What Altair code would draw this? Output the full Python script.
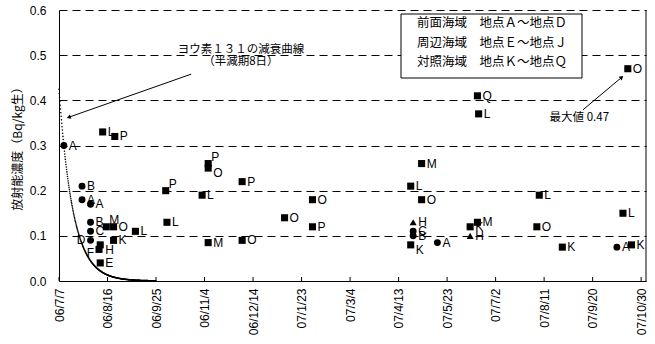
import altair as alt
import pandas as pd

# ---- Monitoring results: sampling date, concentration (Bq/kg wet), station ----
# 前面海域 (stations A–D), drawn as circles
front_dates = ["2006-07-11", "2006-07-26", "2006-07-26", "2006-08-02", "2006-08-02",
               "2006-08-02", "2006-08-02", "2007-04-25", "2007-04-25", "2007-05-15",
               "2007-10-10"]
front_values = [0.30, 0.21, 0.18, 0.17, 0.13, 0.11, 0.09, 0.11, 0.10, 0.085, 0.075]
front_labels = ["A", "B", "A", "A", "B", "C", "D", "C", "B", "A", "A"]

# 周辺海域 (stations E–J)
surr_dates = ["2006-08-09", "2006-08-10", "2006-08-10", "2007-04-25", "2007-06-11"]
surr_values = [0.07, 0.08, 0.04, 0.13, 0.10]
surr_labels = ["F", "H", "E", "H", "H"]
surr_markers = ["square", "square", "square", "triangle-up", "triangle-up"]

# 対照海域 (stations K–Q), drawn as squares
ctrl_dates = ["2006-08-12", "2006-08-22", "2006-08-15", "2006-08-21", "2006-08-21",
              "2006-09-08", "2006-10-03", "2006-10-04", "2006-11-02", "2006-11-07",
              "2006-11-07", "2006-11-07", "2006-12-05", "2006-12-05", "2007-01-09",
              "2007-02-01", "2007-02-01", "2007-04-23", "2007-04-23", "2007-05-02",
              "2007-05-02", "2007-06-11", "2007-06-17", "2007-06-17", "2007-06-18",
              "2007-08-07", "2007-08-05", "2007-08-26", "2007-10-15", "2007-10-19",
              "2007-10-22"]
ctrl_values = [0.33, 0.32, 0.12, 0.12, 0.09, 0.11, 0.20, 0.13, 0.19, 0.26,
               0.25, 0.085, 0.22, 0.09, 0.14, 0.18, 0.12, 0.21, 0.08, 0.26,
               0.18, 0.12, 0.13, 0.41, 0.37, 0.19, 0.12, 0.075, 0.15, 0.47,
               0.08]
ctrl_labels = ["L", "P", "M", "O", "K", "L", "P", "L", "L", "P",
               "O", "M", "P", "O", "O", "O", "P", "L", "K", "M",
               "O", "K", "M", "Q", "L", "L", "O", "K", "L", "O",
               "K"]

# x-axis tick dates (every 40 days)
tick_dates = ["2006-07-07", "2006-08-16", "2006-09-25", "2006-11-04", "2006-12-14",
              "2007-01-23", "2007-03-04", "2007-04-13", "2007-05-23", "2007-07-02",
              "2007-08-11", "2007-09-20", "2007-10-30"]
y_ticks = [0.0, 0.1, 0.2, 0.3, 0.4, 0.5, 0.6]

# I-131 decay reference curve, anchored on the first measurement at station A
HALF_LIFE_DAYS = 8
CURVE_DAYS = 80  # days after 2006-07-07 covered by the curve

legend_lines = ["前面海域　地点Ａ～地点Ｄ", "周辺海域　地点Ｅ～地点Ｊ", "対照海域　地点Ｋ～地点Ｑ"]

# ---- label placement (style only) ----
front_side = {6: "l"}
surr_side = {0: "dl", 1: "dr"}
ctrl_side = {2: "ur", 6: "ur", 9: "ur", 10: "dr", 18: "dr"}

rows = []
for i, (d, v, s) in enumerate(zip(front_dates, front_values, front_labels)):
    rows.append(dict(date=d, value=v, station=s, marker="circle", side=front_side.get(i, "r")))
for i, (d, v, s, m) in enumerate(zip(surr_dates, surr_values, surr_labels, surr_markers)):
    rows.append(dict(date=d, value=v, station=s, marker=m, side=surr_side.get(i, "r")))
for i, (d, v, s) in enumerate(zip(ctrl_dates, ctrl_values, ctrl_labels)):
    rows.append(dict(date=d, value=v, station=s, marker="square", side=ctrl_side.get(i, "r")))
points = pd.DataFrame(rows)

FONT = "Liberation Sans"
JFONT = "Noto Sans CJK JP"


def utc_dt(s):
    y, m, d = (int(p) for p in s.split("-"))
    return alt.DateTime(year=y, month=m, date=d, utc=True)


x_scale = alt.Scale(type="utc", domain=[utc_dt("2006-07-07"), utc_dt("2007-11-03")])
y_scale = alt.Scale(domain=[0, 0.6], nice=False, zero=False)

x_axis = alt.Axis(
    title=None, values=[utc_dt(t) for t in tick_dates],
    labelExpr="utcFormat(datum.value, '%y/%-m/%-d')",
    labelAngle=-90, labelFont=FONT, labelFontSize=12,
    labelColor="black", labelPadding=7, ticks=False, grid=False,
    domainColor="black", domainWidth=1, labelOverlap=False,
)
y_axis = alt.Axis(
    title="放射能濃度（Bq/kg生）", titleFont=JFONT, titleFontSize=12,
    titleFontWeight="normal", titleColor="black", titlePadding=5,
    values=y_ticks, format=".1f", labelFont=FONT, labelFontSize=12,
    labelColor="black", labelPadding=13, ticks=False,
    grid=True, gridColor="black", gridDash=[8, 5], gridWidth=1, gridOpacity=1,
    domainColor="black", domainWidth=1,
)


def xy(xf="date", yf="value"):
    """Shared positional encodings so every layer uses the same axes."""
    return dict(
        x=alt.X(f"{xf}:T", scale=x_scale, axis=x_axis),
        y=alt.Y(f"{yf}:Q", scale=y_scale, axis=y_axis),
    )


base = alt.Chart(points)

marker_layers = [
    base.transform_filter(alt.datum.marker == shape)
        .mark_point(shape=shape, size=size, filled=True, color="black", opacity=1)
        .encode(**xy())
    for shape, size in [("circle", 48), ("square", 50), ("triangle-up", 50)]
]

side_style = {
    "r": dict(align="left", dx=5, dy=0),
    "ur": dict(align="left", dx=3, dy=-7),
    "dr": dict(align="left", dx=5, dy=5),
    "l": dict(align="right", dx=-5, dy=0),
    "dl": dict(align="right", dx=-5, dy=4),
}
label_layers = [
    base.transform_filter(alt.datum.side == key)
        .mark_text(font=FONT, fontSize=12, color="black", baseline="middle", **st)
        .encode(text="station:N", **xy())
    for key, st in side_style.items()
]

# decay curve drawn as a dense run of small dots
curve = (
    alt.Chart(alt.sequence(0, CURVE_DAYS, 0.25, as_="t"))
    .transform_calculate(
        date="utc(2006, 6, 7) + datum.t * 86400000",
        value=f"{front_values[0]} * pow(0.5, (datum.t - 4) / {HALF_LIFE_DAYS})",
    )
    .mark_circle(size=2.5, color="black", opacity=1)
    .encode(**xy())
)

# inward tick marks on the date axis
ticks = (
    alt.Chart(pd.DataFrame({"date": tick_dates}))
    .mark_rule(color="black", strokeWidth=1)
    .encode(x=alt.X("date:T", scale=x_scale, axis=x_axis), y=alt.value(267), y2=alt.value(271))
)

# right-hand frame
right_edge = (
    alt.Chart(pd.DataFrame({"a": [0]}))
    .mark_rule(color="black", strokeWidth=1)
    .encode(x=alt.value(587), y=alt.value(0), y2=alt.value(271))
)

# annotation arrows
arrows = pd.DataFrame({
    "date": ["2006-10-24", "2007-09-12"],
    "value": [0.458, 0.379],
    "date2": ["2006-07-15", "2007-10-14"],
    "value2": [0.3625, 0.451],
    "angle": [251, 49],
})
arrow_lines = (
    alt.Chart(arrows).mark_rule(color="black", strokeWidth=1)
    .encode(x2="date2:T", y2="value2:Q", **xy())
)
arrow_heads = (
    alt.Chart(arrows)
    .mark_point(shape="triangle-up", size=22, filled=True, color="black", opacity=1)
    .encode(angle=alt.Angle("angle:Q", scale=None), **xy("date2", "value2"))
)

notes = pd.DataFrame({
    "date": ["2006-12-04", "2006-12-04", "2007-09-09"],
    "value": [0.511, 0.484, 0.361],
    "text": ["ヨウ素１３１の減衰曲線", "（半減期8日）", "最大値 0.47"],
})
note_text = (
    alt.Chart(notes)
    .mark_text(font=JFONT, fontSize=11.5, color="black", align="center", baseline="middle")
    .encode(text="text:N", **xy())
)

legend_box = (
    alt.Chart(pd.DataFrame({"a": [0]}))
    .mark_rect(fill="white", stroke="black", strokeWidth=1)
    .encode(x=alt.value(342), x2=alt.value(523), y=alt.value(4), y2=alt.value(68))
)
legend_text = (
    alt.Chart(pd.DataFrame({"a": [0]}))
    .mark_text(font=JFONT, fontSize=12.5, color="black", align="center",
               baseline="top", lineHeight=19.5, text=legend_lines)
    .encode(x=alt.value(433), y=alt.value(7))
)

chart = (
    alt.layer(
        *marker_layers, curve, ticks, right_edge, legend_box, legend_text,
        arrow_lines, arrow_heads, note_text, *label_layers,
    )
    .properties(
        width=587, height=271, background="white",
        padding={"left": 59, "top": 10, "right": 9, "bottom": 63},
        autosize=alt.AutoSizeParams(type="none"),
    )
    .configure_view(stroke=None)
)

chart.save("out.html", embed_options={"renderer": "svg", "actions": False})
